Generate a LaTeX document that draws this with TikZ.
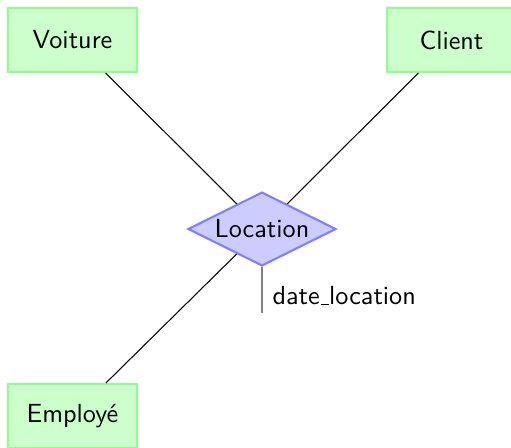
\documentclass[tikz,border=0pt]{standalone}
\usetikzlibrary{shapes.geometric}
\newcommand{\lowbar}{\leavevmode\kern.06em\vbox{\hrule width.3em}}
\begin{document}
\begin{tikzpicture}[x=0.3817pt,y=-0.3817pt,
  entity/.style={rectangle,draw=green!45,fill=green!20,line width=0.8pt,
    minimum width=49.2pt,minimum height=24.4pt,font=\sffamily},
  relation/.style={diamond,aspect=2,draw=blue!50,fill=blue!20,line width=0.8pt,
    minimum width=56.5pt,minimum height=28.2pt,inner sep=0pt,font=\sffamily},
  link/.style={draw=black,line width=0.4pt},
  attrline/.style={draw=gray,line width=0.8pt}]
\useasboundingbox (0,0) rectangle (511,448);
\node[entity] (voiture) at (72.5,40) {Voiture};
\node[entity] (client) at (451.5,40) {Client};
\node[entity] (employe) at (72.5,416) {Employé};
\node[relation] (location) at (262,229) {Location};
\coordinate (attrend) at (262,313);
\draw[link] (voiture) -- (location);
\draw[link] (client) -- (location);
\draw[link] (employe) -- (location);
\draw[attrline] (location.south) -- (attrend);
\node[anchor=west,font=\sffamily,inner sep=0pt] (attr) at (272,296) {date\lowbar location};
\end{tikzpicture}
\end{document}
